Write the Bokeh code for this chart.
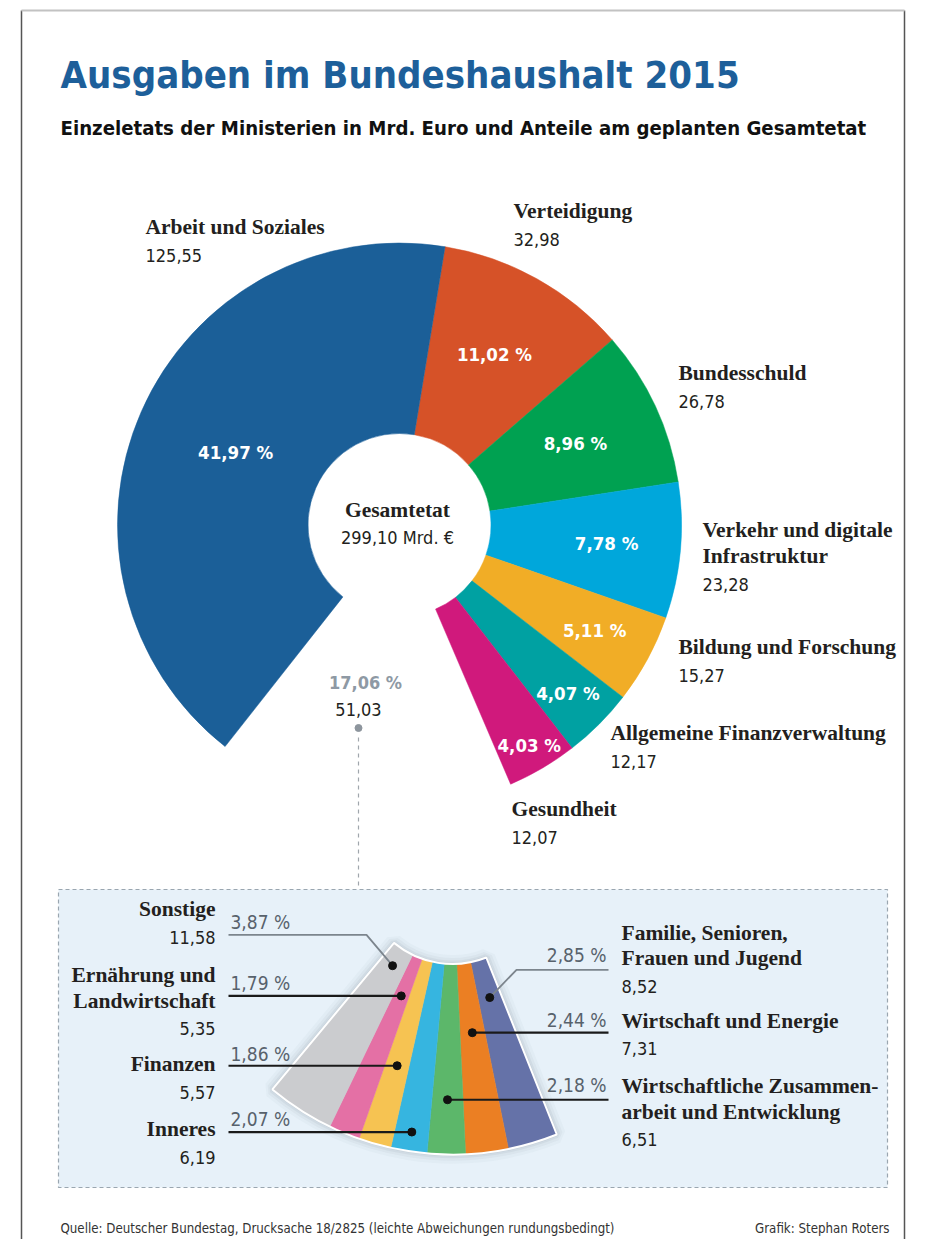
import math
from bokeh.plotting import figure
from bokeh.models import ColumnDataSource, Range1d
from bokeh.core.properties import value
from bokeh.embed import file_html
from bokeh.resources import INLINE

# ---------------- data ----------------
title = "Ausgaben im Bundeshaushalt 2015"
subtitle = "Einzeletats der Ministerien in Mrd. Euro und Anteile am geplanten Gesamtetat"
source_note = "Quelle: Deutscher Bundestag, Drucksache 18/2825  (leichte Abweichungen rundungsbedingt)"
credit = "Grafik: Stephan Roters"
total_budget = 299.10

# main ministries, clockwise starting at "Verteidigung"; "Arbeit und Soziales" closes the ring
main_names = ["Verteidigung", "Bundesschuld", "Verkehr und digitale\nInfrastruktur",
              "Bildung und Forschung", "Allgemeine Finanzverwaltung", "Gesundheit",
              "Arbeit und Soziales"]
main_values = [32.98, 26.78, 23.28, 15.27, 12.17, 12.07, 125.55]
main_shares = [11.02, 8.96, 7.78, 5.11, 4.07, 4.03, 41.97]
main_colors = ["#d65228", "#00a151", "#00a7db", "#f1ad26", "#00a1a2", "#d0197c", "#1b5f98"]

# the remaining 17.06 % (between "Gesundheit" and "Arbeit und Soziales")
other_value = 51.03
other_share = 17.06

# detail of the remaining share, clockwise order
small_names = ["Familie, Senioren,\nFrauen und Jugend", "Wirtschaft und Energie",
               "Wirtschaftliche Zusammen-\narbeit und Entwicklung", "Inneres", "Finanzen",
               "Ernährung und\nLandwirtschaft", "Sonstige"]
small_values = [8.52, 7.31, 6.51, 6.19, 5.57, 5.35, 11.58]
small_shares = [2.85, 2.44, 2.18, 2.07, 1.86, 1.79, 3.87]
small_colors = ["#6572a8", "#eb7f23", "#5cb76a", "#36b5e0", "#f6c352", "#e470a5", "#cbcccf"]

# ---------------- layout (page pixels) ----------------
W, H = 925, 1239
def X(px): return px
def Y(py): return H - py

def de(v, nd=2):
    return f"{v:.{nd}f}".replace(".", ",")

SERIF = "Liberation Serif"
NARROW = "DejaVu Sans Condensed"
TXT = "#231f20"

CX, CY = 399, 524.5           # ring centre
R_IN, R_OUT = 91.5, 282
TH0 = 9.3                     # clockwise-from-top angle where "Verteidigung" starts
FCX, FCY = 452, 872           # detail fan centre
FAN_ROT = 1.5

def polar(cx, cy, r, th):
    t = math.radians(th)
    return cx + r * math.sin(t), cy - r * math.cos(t)

p = figure(width=W, height=H, x_range=Range1d(0, W), y_range=Range1d(0, H),
           output_backend="svg", toolbar_location=None, min_border=0,
           x_axis_location=None, y_axis_location=None)
p.outline_line_color = None
p.grid.visible = False
p.background_fill_color = "white"
p.border_fill_color = "white"

def txt(xs, ys, texts, size, color, font, style="normal", align="left", baseline="alphabetic"):
    shift = 0.36 * size if baseline == "alphabetic" else 0
    src = ColumnDataSource(dict(x=[X(v) for v in xs], y=[Y(v - shift) for v in ys], t=texts))
    p.text(x="x", y="y", text="t", source=src, text_font=value(font),
           text_font_size=f"{size}px", text_color=color, text_font_style=style,
           text_align=align, text_baseline=baseline)

# frame
p.line([X(21), X(21)], [Y(10), Y(1245)], line_color="#555555", line_width=1.5)
p.line([X(904), X(904)], [Y(10), Y(1245)], line_color="#555555", line_width=1.5)
p.line([X(21), X(904)], [Y(10), Y(10)], line_color="#c2c2c2", line_width=2)

# titles
txt([60], [88], [title], 38, "#1d5f9a", NARROW, "bold")
txt([60], [135], [subtitle], 20.2, "#111111", NARROW, "bold")
txt([60], [1233], [source_note], 13.2, "#333333", NARROW)
txt([889], [1233], [credit], 13.2, "#333333", NARROW, align="right")

# ---------------- ring ----------------
seq = main_shares[:6] + [other_share] + [main_shares[6]]
bounds = [TH0]
for s in seq:
    bounds.append(bounds[-1] + s * 3.6)
idx = [0, 1, 2, 3, 4, 5, 7]
starts, ends = [], []
for i in idx:
    starts.append(math.radians(90 - bounds[i + 1]))
    ends.append(math.radians(90 - bounds[i]))
ring = ColumnDataSource(dict(x=[X(CX)] * 7, y=[Y(CY)] * 7, s=starts, e=ends, c=main_colors))
p.annular_wedge(x="x", y="y", inner_radius=R_IN, outer_radius=R_OUT, start_angle="s",
                end_angle="e", fill_color="c", line_color="c", line_width=0.5, source=ring)

# percentage labels in ring
pct_r = [195, 194, 208, 222, 238, 256, 179]
px_, py_ = [], []
for k, i in enumerate(idx):
    mid = (bounds[i] + bounds[i + 1]) / 2
    x, y = polar(CX, CY, pct_r[k], mid)
    px_.append(x); py_.append(y)
txt(px_, py_, [de(s) + " %" for s in main_shares], 18.5, "white", NARROW, "bold",
    align="center", baseline="middle")

# centre text
txt([397], [517], ["Gesamtetat"], 21.5, TXT, SERIF, "bold", align="center")
txt([397], [543], [de(total_budget) + " Mrd. €"], 18, TXT, NARROW, align="center")

# outer labels of ring
name_pos = [(513, 218), (678, 380), (702, 537), (678, 654), (610, 740), (511, 816), (145, 234)]
LS = 26
for (x0, y0), nm, v in zip(name_pos, main_names, main_values):
    lines = nm.split("\n")
    txt([x0] * len(lines), [y0 + LS * j for j in range(len(lines))], lines, 21.5, TXT, SERIF, "bold")
    txt([x0], [y0 + LS * len(lines) + 1], [de(v)], 18, TXT, NARROW)

# remaining share label + connector
txt([365], [688], [de(other_share) + " %"], 18, "#8e99a4", NARROW, "bold", align="center")
txt([358], [715], [de(other_value)], 18, TXT, NARROW, align="center")
p.scatter([X(358)], [Y(727.5)], size=7, color="#8d959d")
p.line([X(358), X(358)], [Y(737), Y(889)], line_color="#a0a6ac", line_width=1.2, line_dash="4 4")

# ---------------- detail panel ----------------
p.quad(left=[X(58)], right=[X(887)], top=[Y(889)], bottom=[Y(1187)],
       fill_color="#e7f1f9", line_color="#9aa6b0", line_width=1.2, line_dash="4 3")

f0 = bounds[6] + FAN_ROT
fb = [f0]
for s in small_shares:
    fb.append(fb[-1] + s * 3.6)
fan_s = [math.radians(90 - fb[i + 1]) for i in range(7)]
fan_e = [math.radians(90 - fb[i]) for i in range(7)]

# soft shadow around the fan
for lw, la in [(18, 0.035), (12, 0.05), (7, 0.07), (3, 0.09)]:
    p.annular_wedge(x=[X(FCX)], y=[Y(FCY)], inner_radius=R_IN, outer_radius=R_OUT,
                    start_angle=[fan_s[-1]], end_angle=[fan_e[0]], fill_color=None,
                    line_color="#5a6670", line_alpha=la, line_width=lw)
fan = ColumnDataSource(dict(x=[X(FCX)] * 7, y=[Y(FCY)] * 7, s=fan_s, e=fan_e, c=small_colors))
p.annular_wedge(x="x", y="y", inner_radius=R_IN, outer_radius=R_OUT, start_angle="s",
                end_angle="e", fill_color="c", line_color="c", line_width=0.5, source=fan)
p.annular_wedge(x=[X(FCX)], y=[Y(FCY)], inner_radius=R_IN, outer_radius=R_OUT,
                start_angle=[fan_s[-1]], end_angle=[fan_e[0]], fill_color=None,
                line_color="white", line_width=2)

# dots and leader lines
dot_r = [130.5, 161.4, 227.3, 262.7, 201, 133.6, 110.8]
side = ["R", "R", "R", "L", "L", "L", "L"]
elbow = [(516, 969.3), None, None, None, None, None, (366, 934.3)]
dots = []
for i in range(7):
    mid = (fb[i] + fb[i + 1]) / 2
    dots.append(polar(FCX, FCY, dot_r[i], mid))
for i in range(7):
    dx, dy = dots[i]
    xe = 608 if side[i] == "R" else 228
    if elbow[i] is None:
        xs, ys = [xe, dx], [dy, dy]
        col, lw = "#1a1a1a", 2.2
    else:
        xs, ys = [xe, elbow[i][0], dx], [elbow[i][1], elbow[i][1], dy]
        col, lw = "#7c858d", 1.8
    p.line([X(v) for v in xs], [Y(v) for v in ys], line_color=col, line_width=lw)
p.scatter([X(d[0]) for d in dots], [Y(d[1]) for d in dots], size=8, color="#111111")

# detail labels
small_name_pos = [(621, 940), (621, 1028.3), (621, 1093.3), (215, 1136.7), (215, 1071.7),
                  (215, 982.3), (215, 916.7)]
pct_pos = [(606, 961.7), (606, 1026.7), (606, 1091.7), (230, 1125), (230, 1060),
           (230, 989.3), (230, 928.3)]
LS2 = 25.5
for i in range(7):
    x0, y0 = small_name_pos[i]
    al = "left" if side[i] == "R" else "right"
    lines = small_names[i].split("\n")
    txt([x0] * len(lines), [y0 + LS2 * j for j in range(len(lines))], lines, 21.5, TXT, SERIF,
        "bold", align=al)
    txt([x0], [y0 + LS2 * len(lines) + 1], [de(small_values[i])], 18, TXT, NARROW, align=al)
    px0, py0 = pct_pos[i]
    txt([px0], [py0], [de(small_shares[i]) + " %"], 19, "#58626c", NARROW,
        align=("right" if side[i] == "R" else "left"))

open("out.html", "w").write(file_html(p, INLINE))
